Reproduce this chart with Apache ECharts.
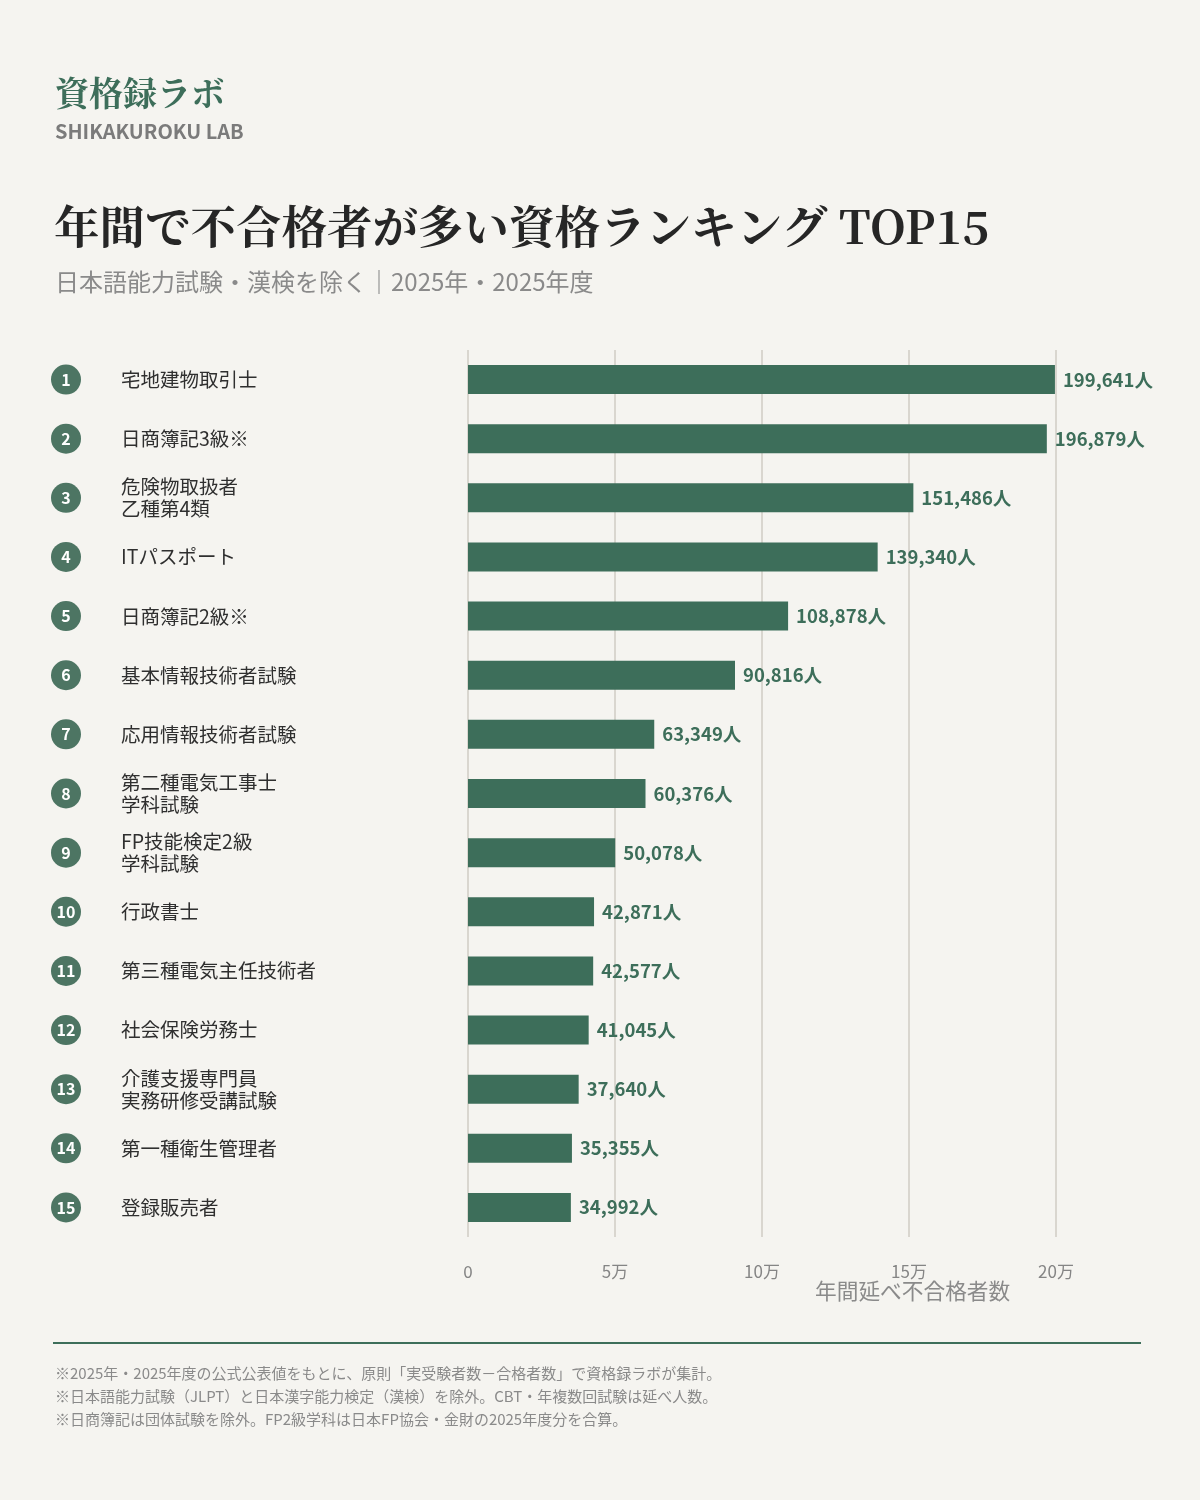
<!DOCTYPE html>
<html>
<head>
<meta charset="utf-8">
<script src="https://cdn.jsdelivr.net/npm/echarts@6/dist/echarts.min.js"></script>
<style>
  html, body { margin: 0; padding: 0; background: #f5f4f0; }
  #chart { width: 1200px; height: 1500px; }
</style>
</head>
<body>
<div id="chart"></div>
<script>
const ranks = ["1", "2", "3", "4", "5", "6", "7", "8", "9", "10", "11", "12", "13", "14", "15"];
const names = [
  "宅地建物取引士",
  "日商簿記3級※",
  "危険物取扱者\n乙種第4類",
  "ITパスポート",
  "日商簿記2級※",
  "基本情報技術者試験",
  "応用情報技術者試験",
  "第二種電気工事士\n学科試験",
  "FP技能検定2級\n学科試験",
  "行政書士",
  "第三種電気主任技術者",
  "社会保険労務士",
  "介護支援専門員\n実務研修受講試験",
  "第一種衛生管理者",
  "登録販売者"
];
const failures = [199641, 196879, 151486, 139340, 108878, 90816, 63349, 60376, 50078, 42871, 42577, 41045, 37640, 35355, 34992];
const notes = [
  "※2025年・2025年度の公式公表値をもとに、原則「実受験者数－合格者数」で資格録ラボが集計。",
  "※日本語能力試験（JLPT）と日本漢字能力検定（漢検）を除外。CBT・年複数回試験は延べ人数。",
  "※日商簿記は団体試験を除外。FP2級学科は日本FP協会・金財の2025年度分を合算。"
];

const green = "#3d6e5a";
const sans = "'Noto Sans CJK JP', 'Noto Sans', sans-serif";
const serif = "'Noto Serif CJK JP', 'Noto Sans CJK JP', serif";

const chart = echarts.init(document.getElementById("chart"));

chart.setOption({
  backgroundColor: "#f5f4f0",
  textStyle: { fontFamily: sans },
  grid: { left: 468, right: 144, top: 350, height: 887, containLabel: false },
  xAxis: {
    type: "value",
    min: 0,
    max: 200000,
    interval: 50000,
    axisLine: { show: false },
    axisTick: { show: false },
    splitLine: { lineStyle: { color: "#d9d6cf", width: 2 } },
    axisLabel: {
      margin: 26,
      fontSize: 17,
      color: "#858585",
      formatter: v => (v === 0 ? "0" : v / 10000 + "万")
    }
  },
  yAxis: [
    {
      type: "category",
      data: names,
      inverse: true,
      axisLine: { show: false },
      axisTick: { show: false },
      axisLabel: {
        align: "left",
        margin: 347,
        fontSize: 19.5,
        lineHeight: 22,
        color: "#2f2f2f"
      }
    },
    {
      type: "category",
      data: ranks,
      inverse: true,
      position: "left",
      axisLine: { show: false },
      axisTick: { show: false },
      axisLabel: {
        margin: 402,
        align: "center",
        formatter: v => "{c|" + v + "}",
        rich: {
          c: {
            width: 30,
            height: 30,
            borderRadius: 15,
            backgroundColor: "#4d7563",
            color: "#ffffff",
            fontSize: 16,
            fontWeight: "bold",
            align: "center",
            verticalAlign: "middle"
          }
        }
      }
    }
  ],
  series: [
    {
      type: "bar",
      data: failures,
      barWidth: 29,
      itemStyle: { color: green },
      label: {
        show: true,
        position: "right",
        distance: 8,
        fontSize: 18.5,
        fontWeight: "bold",
        color: green,
        formatter: p => p.value.toLocaleString("en-US") + "人"
      }
    }
  ],
  graphic: [
    { type: "text", left: 55, top: 76, style: { text: "資格録ラボ", font: "bold 34px " + serif, fill: green } },
    { type: "text", left: 55, top: 121, style: { text: "SHIKAKUROKU LAB", font: "bold 20px " + sans, fill: "#7b7b7b" } },
    { type: "text", left: 54, top: 204, style: { text: "年間で不合格者が多い資格ランキング TOP15", font: "bold 45.5px " + serif, fill: "#262626" } },
    { type: "text", left: 55, top: 270, style: { text: "日本語能力試験・漢検を除く｜2025年・2025年度", font: "24px " + sans, fill: "#8a8a8a" } },
    { type: "text", left: 815, top: 1280, style: { text: "年間延べ不合格者数", font: "21.7px " + sans, fill: "#8a8a8a" } },
    { type: "rect", shape: { x: 53, y: 1342, width: 1088, height: 2 }, style: { fill: green } },
    {
      type: "group",
      left: 55,
      top: 1366,
      children: notes.map((t, i) => ({
        type: "text",
        top: i * 23,
        style: { text: t, font: "15px " + sans, fill: "#8a8a8a" }
      }))
    }
  ]
});
</script>
</body>
</html>
